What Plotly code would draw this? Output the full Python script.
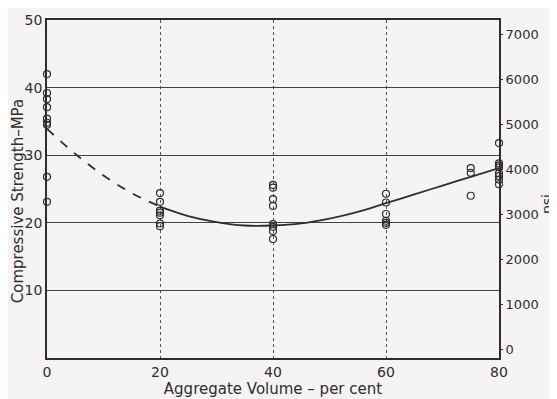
import plotly.graph_objects as go

# Aggregate volume (per cent) and compressive strength (MPa) readings
vol_0 = [42.0, 39.2, 38.3, 37.1, 35.4, 34.8, 34.5, 26.8, 23.1]
vol_20 = [24.4, 23.1, 21.8, 21.5, 21.1, 19.9, 19.5]
vol_40 = [25.6, 25.2, 23.5, 22.5, 19.8, 19.4, 18.8, 17.6]
vol_60 = [24.3, 23.0, 21.3, 20.3, 20.0, 19.7]
vol_75 = [28.1, 27.4, 24.0]
vol_80 = [31.8, 28.8, 28.5, 28.2, 27.3, 26.9, 26.4, 25.7]

# fitted curve
dash_x = [0, 5, 10, 15, 20]
dash_y = [33.9, 30.2, 27.0, 24.4, 22.4]
solid_x = [20, 25, 30, 35, 40, 45, 50, 55, 60, 65, 70, 75, 80]
solid_y = [22.4, 21.0, 20.1, 19.6, 19.6, 19.9, 20.6, 21.6, 22.9, 24.2, 25.5, 26.8, 28.1]

x_ticks = [0, 20, 40, 60, 80]
y_ticks = [10, 20, 30, 40, 50]
psi_ticks = [0, 1000, 2000, 3000, 4000, 5000, 6000, 7000]

ink = "#2e2e2e"
font = "DejaVu Sans"

pts_x, pts_y = [], []
for xv, arr in [(0, vol_0), (20, vol_20), (40, vol_40), (60, vol_60), (75, vol_75), (80, vol_80)]:
    pts_x += [xv] * len(arr)
    pts_y += arr

fig = go.Figure()
fig.add_trace(go.Scatter(x=dash_x, y=dash_y, mode="lines", line=dict(color=ink, width=1.8, dash="dash", shape="spline"),
                         showlegend=False, hoverinfo="skip"))
fig.add_trace(go.Scatter(x=solid_x, y=solid_y, mode="lines", line=dict(color=ink, width=1.8, shape="spline"),
                         showlegend=False, hoverinfo="skip"))
fig.add_trace(go.Scatter(x=pts_x, y=pts_y, mode="markers", cliponaxis=False,
                         marker=dict(symbol="circle-open", size=7, color=ink, line=dict(width=1.2)),
                         showlegend=False))
fig.add_trace(go.Scatter(x=[0, 80], y=[0, 7000], yaxis="y2", mode="markers", marker=dict(opacity=0),
                         showlegend=False, hoverinfo="skip"))

bg = "#f5f3f3"
fig.update_layout(
    width=549, height=391,
    margin=dict(l=39, r=58, t=12, b=41),
    paper_bgcolor=bg, plot_bgcolor=bg,
    font=dict(family=font, color=ink, size=14),
    xaxis=dict(range=[0, 80], tickvals=x_ticks, showgrid=True, gridcolor="#555", griddash="dot", gridwidth=1,
               showline=True, linecolor=ink, linewidth=1.5, mirror=True, zeroline=False, ticks="",
               automargin=False, tickfont=dict(size=14),
               title=dict(text="Aggregate Volume – per cent", standoff=3, font=dict(size=15))),
    yaxis=dict(range=[0, 50], tickvals=y_ticks, showgrid=True, gridcolor="#444", gridwidth=1,
               showline=True, linecolor=ink, linewidth=1.5, mirror=True, zeroline=False, ticks="",
               automargin=False, tickfont=dict(size=14)),
    yaxis2=dict(range=[-200, 7330], tickvals=psi_ticks, overlaying="y", side="right", showgrid=False,
                zeroline=False, ticks="outside", ticklen=3, tickcolor=ink, showline=False,
                automargin=False, tickfont=dict(size=13)),
    annotations=[
        dict(text="Compressive Strength–MPa", xref="paper", yref="paper", x=-0.064, y=0.464,
             textangle=-90, showarrow=False, font=dict(size=15), xanchor="center", yanchor="middle"),
        dict(text="psi", xref="paper", yref="paper", x=1.106, y=0.455,
             textangle=-90, showarrow=False, font=dict(size=14), xanchor="center", yanchor="middle"),
    ],
)
fig.write_html("out.html")
